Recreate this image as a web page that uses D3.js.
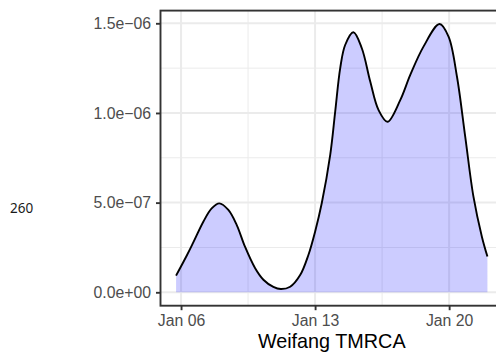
<!DOCTYPE html>
<html lang="en">
<head>
    <meta charset="UTF-8">
    <title>Weifang TMRCA density</title>
    <script src="https://d3js.org/d3.v7.min.js"></script>
    <style>
        body { margin: 0; background: #fff; }
        svg { display: block; }
        .tick text { font-family: "Liberation Sans", Arial, sans-serif; }
    </style>
</head>
<body>
    <div id="chart"></div>

    <script>
        // days of January 2020 (fractional) and density values (x 1e-6)
        var days = [5.74, 6.30, 6.64, 7.17, 7.60, 8.00, 8.47, 8.91, 9.34, 9.87, 10.30, 10.82,
                    11.21, 11.70, 12.22, 12.65, 13.00, 13.35, 13.79, 14.05, 14.31, 14.57, 15.00,
                    15.44, 15.88, 16.31, 16.78, 17.44, 17.97, 18.66, 19.50, 19.97, 20.41, 20.84,
                    21.27, 21.71, 22.00];
        var density = [0.093, 0.205, 0.278, 0.395, 0.468, 0.496, 0.459, 0.375, 0.254, 0.134, 0.070, 0.030,
                       0.018, 0.031, 0.096, 0.208, 0.338, 0.498, 0.766, 1.007, 1.249, 1.379, 1.450,
                       1.361, 1.175, 1.017, 0.951, 1.070, 1.212, 1.370, 1.496, 1.426, 1.202, 0.868,
                       0.533, 0.310, 0.199];

        var xTickDays = [6, 13, 20];
        var xMinorDays = [9.5, 16.5];
        var yTicks = [0, 0.5e-6, 1.0e-6, 1.5e-6];
        var yTickLabels = ["0.0e+00", "5.0e\u221207", "1.0e\u221206", "1.5e\u221206"];
        var yMinor = [0.25e-6, 0.75e-6, 1.25e-6];
        var xTitle = "Weifang TMRCA";
        var sideNote = "260";

        function dayToDate(d) {
            return new Date(Date.UTC(2020, 0, 1) + (d - 1) * 864e5);
        }

        var data = days.map(function(d, i) {
            return { date: dayToDate(d), value: density[i] * 1e-6 };
        });

        var width = 496, height = 356;
        var panel = { left: 160.5, right: 503, top: 10.6, bottom: 305.7 };

        var svg = d3.select("#chart")
            .append("svg")
            .attr("width", width)
            .attr("height", height);

        // ggplot-like 5% expansion of the data range
        var xExt = d3.extent(days);
        var xPad = (xExt[1] - xExt[0]) * 0.05;
        var x = d3.scaleUtc()
            .domain([dayToDate(xExt[0] - xPad), dayToDate(xExt[1] + xPad)])
            .range([panel.left, panel.right]);

        var yMax = d3.max(density) * 1e-6;
        var yPad = yMax * 0.05;
        var y = d3.scaleLinear()
            .domain([-yPad, yMax + yPad])
            .range([panel.bottom, panel.top]);

        var plot = svg.append("g");

        // Grid lines
        plot.selectAll("line.yminor").data(yMinor).enter().append("line")
            .attr("x1", panel.left).attr("x2", panel.right)
            .attr("y1", function(d) { return y(d); }).attr("y2", function(d) { return y(d); })
            .attr("stroke", "#ebebeb").attr("stroke-width", 1);
        plot.selectAll("line.xminor").data(xMinorDays).enter().append("line")
            .attr("y1", panel.top).attr("y2", panel.bottom)
            .attr("x1", function(d) { return x(dayToDate(d)); }).attr("x2", function(d) { return x(dayToDate(d)); })
            .attr("stroke", "#ebebeb").attr("stroke-width", 1);
        plot.selectAll("line.ymajor").data(yTicks).enter().append("line")
            .attr("x1", panel.left).attr("x2", panel.right)
            .attr("y1", function(d) { return y(d); }).attr("y2", function(d) { return y(d); })
            .attr("stroke", "#ebebeb").attr("stroke-width", 2);
        plot.selectAll("line.xmajor").data(xTickDays).enter().append("line")
            .attr("y1", panel.top).attr("y2", panel.bottom)
            .attr("x1", function(d) { return x(dayToDate(d)); }).attr("x2", function(d) { return x(dayToDate(d)); })
            .attr("stroke", "#ebebeb").attr("stroke-width", 2);

        // Density area + upper outline
        var smooth = d3.curveCatmullRom.alpha(0.5);
        var area = d3.area()
            .x(function(d) { return x(d.date); })
            .y0(y(0))
            .y1(function(d) { return y(d.value); })
            .curve(smooth);
        plot.append("path")
            .datum(data)
            .attr("d", area)
            .attr("fill", "blue")
            .attr("fill-opacity", 0.2);

        var line = d3.line()
            .x(function(d) { return x(d.date); })
            .y(function(d) { return y(d.value); })
            .curve(smooth);
        plot.append("path")
            .datum(data)
            .attr("d", line)
            .attr("fill", "none")
            .attr("stroke", "black")
            .attr("stroke-width", 1.9);

        // Panel border
        plot.append("rect")
            .attr("x", panel.left).attr("y", panel.top)
            .attr("width", panel.right - panel.left)
            .attr("height", panel.bottom - panel.top)
            .attr("fill", "none")
            .attr("stroke", "#333333")
            .attr("stroke-width", 1.9);

        // Axes
        var xAxis = svg.append("g")
            .attr("transform", "translate(0," + panel.bottom + ")")
            .call(d3.axisBottom(x)
                .tickValues(xTickDays.map(dayToDate))
                .tickFormat(d3.utcFormat("%b %d"))
                .tickSize(4.5).tickSizeOuter(0).tickPadding(4.5));
        var yAxis = svg.append("g")
            .attr("transform", "translate(" + panel.left + ",0)")
            .call(d3.axisLeft(y)
                .tickValues(yTicks)
                .tickFormat(function(d, i) { return yTickLabels[i]; })
                .tickSize(4.5).tickSizeOuter(0).tickPadding(5));

        [xAxis, yAxis].forEach(function(ax) {
            ax.select(".domain").remove();
            ax.selectAll(".tick line").attr("stroke", "#333333").attr("stroke-width", 1.9);
            ax.selectAll(".tick text")
                .attr("fill", "#4d4d4d")
                .style("font-size", "15.8px");
        });

        // Axis title
        svg.append("text")
            .attr("x", (panel.left + panel.right) / 2)
            .attr("y", 348)
            .attr("text-anchor", "middle")
            .style("font-family", "'Liberation Sans', Arial, sans-serif")
            .style("font-size", "19.8px")
            .attr("fill", "black")
            .text(xTitle);

        // stray label at the left margin
        svg.append("text")
            .attr("x", 10)
            .attr("y", 213.3)
            .style("font-family", "'Noto Sans', sans-serif")
            .style("font-size", "13.5px")
            .attr("fill", "#1a1a1a")
            .text(sideNote);
    </script>
</body>
</html>
